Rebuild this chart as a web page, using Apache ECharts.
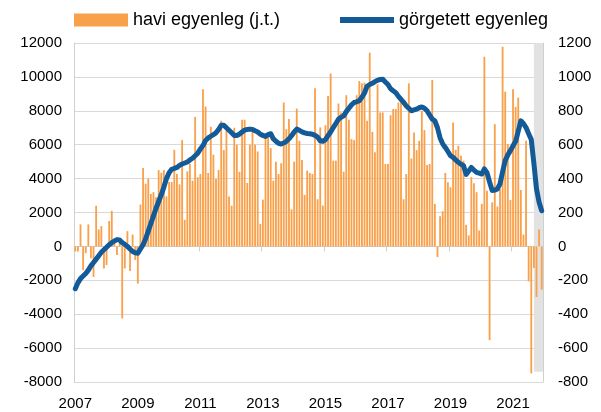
<!DOCTYPE html>
<html>
<head>
<meta charset="utf-8">
<script src="https://cdn.jsdelivr.net/npm/echarts@6/dist/echarts.min.js"></script>
<style>
  html, body { margin: 0; padding: 0; background: #fff; }
  #chart { width: 601px; height: 412px; }
</style>
</head>
<body>
<div id="chart"></div>
<script>
// évek a tengelyen, havi adatok 2007.01 - 2021.12
var years = [2007, 2008, 2009, 2010, 2011, 2012, 2013, 2014, 2015, 2016, 2017, 2018, 2019, 2020, 2021];

// havi egyenleg (bal tengely)
var havi = [
  -300, -300, 1300, -1400, -400, 1300, -700, -1800, 2400, 1000, 1200, -1300,
  -1100, 1500, 2100, 200, -500, 200, -4250, -1300, 900, -1450, 700, -800,
  -2200, 2470, 4630, 3700, 4000, 3100, 3200, 2900, 4500, 4350, 4500, 2950,
  3800, 3800, 5700, 4270, 3660, 6270, 1570, 4430, 4860, 3880, 7640, 4080,
  4270, 9270, 8250, 4330, 7060, 5410, 3980, 4510, 7410, 5680, 6820, 2940,
  2400, 7000, 6000, 4400, 7470, 7470, 3740, 6000, 6760, 6000, 5600, 1330,
  2760, 6530, 6530, 5800, 3880, 5000, 4270, 4900, 8490, 6920, 7510, 2180,
  5000, 8130, 6230, 5100, 3040, 4470, 4330, 4270, 9330, 2780, 7020, 2410,
  7150, 8880, 10200, 5060, 5060, 8430, 7900, 4410, 8920, 7470, 6330, 6270,
  8920, 9760, 9620, 9660, 7410, 11430, 6760, 5550, 9560, 7900, 7900, 4860,
  4860, 7740, 8100, 8100, 8490, 8490, 2780, 4270, 9620, 5190, 6720, 5680,
  6230, 8000, 6860, 4800, 4860, 9820, 2510, -630, 1780, 2080, 4330, 3780,
  3490, 7310, 5700, 5940, 5350, 5060, 1270, 650, 4080, 3720, 3200, 940,
  2510, 11190, 3290, -5530, 2600, 7210, 2350, 3390, 11780, 9130, 6040, 2740,
  9270, 8230, 8780, 3330, 700, 6230, -2060, -7490, -1270, -2980, 1000, -2550
];

// görgetett egyenleg (jobb tengely)
var gorgetett = [
  -250, -215, -190, -175, -160, -140, -115, -95, -75, -55, -35, -20,
  -5, 10, 22, 32, 40, 38, 22, 12, 0, -15, -30, -38,
  -40, -15, 10, 45, 90, 135, 180, 225, 265, 305, 350, 400,
  435, 455, 460, 466, 478, 486, 492, 498, 510, 520, 535, 550,
  575, 595, 625, 640, 650, 660, 670, 690, 715, 715, 700, 685,
  670, 655, 655, 662, 675, 686, 690, 692, 690, 682, 675, 662,
  655, 649, 660, 665, 635, 620, 608, 604, 610, 620, 635, 653,
  675, 692, 685, 676, 670, 666, 665, 662, 655, 645, 623, 620,
  630, 653, 675, 701, 725, 750, 762, 770, 795, 815, 835, 849,
  853, 860, 880, 905, 945, 955, 962, 972, 980, 985, 986, 970,
  955, 930, 918, 907, 885, 868, 850, 829, 815, 800, 805, 810,
  818, 823, 815, 800, 775, 751, 741, 700, 640, 605, 584, 560,
  535, 525, 510, 496, 485, 476, 425, 445, 466, 450, 437, 432,
  427, 457, 435, 380, 330, 332, 339, 369, 440, 506, 540, 565,
  594, 620, 680, 741, 725, 701, 665, 630, 490, 340, 260, 210
];

// szürke sáv: az utolsó hónapok (kezdő index), jobb tengelyes értékhatárok
var shadeFrom = 175.6;
var shadeTop = 1240, shadeBottom = -740;

var months = [];
years.forEach(function (y) {
  for (var m = 1; m <= 12; m++) months.push(y + '-' + (m < 10 ? '0' + m : m));
});

var font = 'Liberation Sans';
var plain = function (v) { return String(v); };
var chart = echarts.init(document.getElementById('chart'));

chart.setOption({
  animation: false,
  textStyle: { fontFamily: font },
  grid: { left: 74, right: 58, top: 43, bottom: 30 },
  legend: [{
    data: ['havi egyenleg (j.t.)'],
    left: 74, top: 11, padding: 0,
    icon: 'rect', itemWidth: 54, itemHeight: 13,
    textStyle: { fontSize: 18, color: '#000', fontFamily: font }
  }, {
    data: ['görgetett egyenleg'],
    left: 340, top: 11, padding: 0,
    icon: 'rect', itemWidth: 54, itemHeight: 6,
    textStyle: { fontSize: 18, color: '#000', fontFamily: font }
  }],
  xAxis: [{
    type: 'category',
    data: months,
    position: 'bottom',
    axisLine: { show: false },
    axisTick: { show: false },
    axisLabel: {
      interval: 23, margin: 14, fontSize: 15, color: '#000',
      formatter: function (v) { return v.slice(0, 4); }
    }
  }, {
    // nullvonal a kis évenkénti osztásokkal
    type: 'category',
    data: months,
    position: 'top',
    axisLine: { show: true, onZero: true, lineStyle: { color: '#d0d0d0', width: 1 } },
    axisTick: { show: true, inside: true, length: 5, interval: 23, lineStyle: { color: '#d0d0d0' } },
    axisLabel: { show: false }
  }],
  yAxis: [{
    type: 'value',
    min: -8000, max: 12000, interval: 2000,
    axisLine: { show: true, lineStyle: { color: '#d0d0d0' } },
    axisTick: { show: false },
    splitLine: { lineStyle: { color: '#d9d9d9', width: 1 } },
    axisLabel: { margin: 12, fontSize: 15, color: '#000', formatter: plain }
  }, {
    type: 'value',
    min: -800, max: 1200, interval: 200,
    axisLine: { show: true, lineStyle: { color: '#d0d0d0' } },
    axisTick: { show: false },
    splitLine: { show: false },
    axisLabel: { margin: 15, fontSize: 15, color: '#000', formatter: plain }
  }],
  series: [{
    name: 'havi egyenleg (j.t.)',
    type: 'bar',
    data: havi,
    xAxisIndex: 0, yAxisIndex: 0,
    barCategoryGap: '30%',
    z: 3,
    itemStyle: { color: '#F9A04B' }
  }, {
    name: 'görgetett egyenleg',
    type: 'line',
    data: gorgetett,
    xAxisIndex: 0, yAxisIndex: 1,
    showSymbol: false,
    symbol: 'none',
    clip: false,
    z: 4,
    lineStyle: { color: '#135B98', width: 5, cap: 'round', join: 'round' },
    itemStyle: { color: '#135B98' },
    markArea: {
      silent: true,
      z: 1,
      itemStyle: { color: '#e2e2e2', opacity: 1 },
      data: [[
        { xAxis: shadeFrom, yAxis: shadeTop },
        { xAxis: Infinity, yAxis: shadeBottom }
      ]]
    }
  }]
});
</script>
</body>
</html>
